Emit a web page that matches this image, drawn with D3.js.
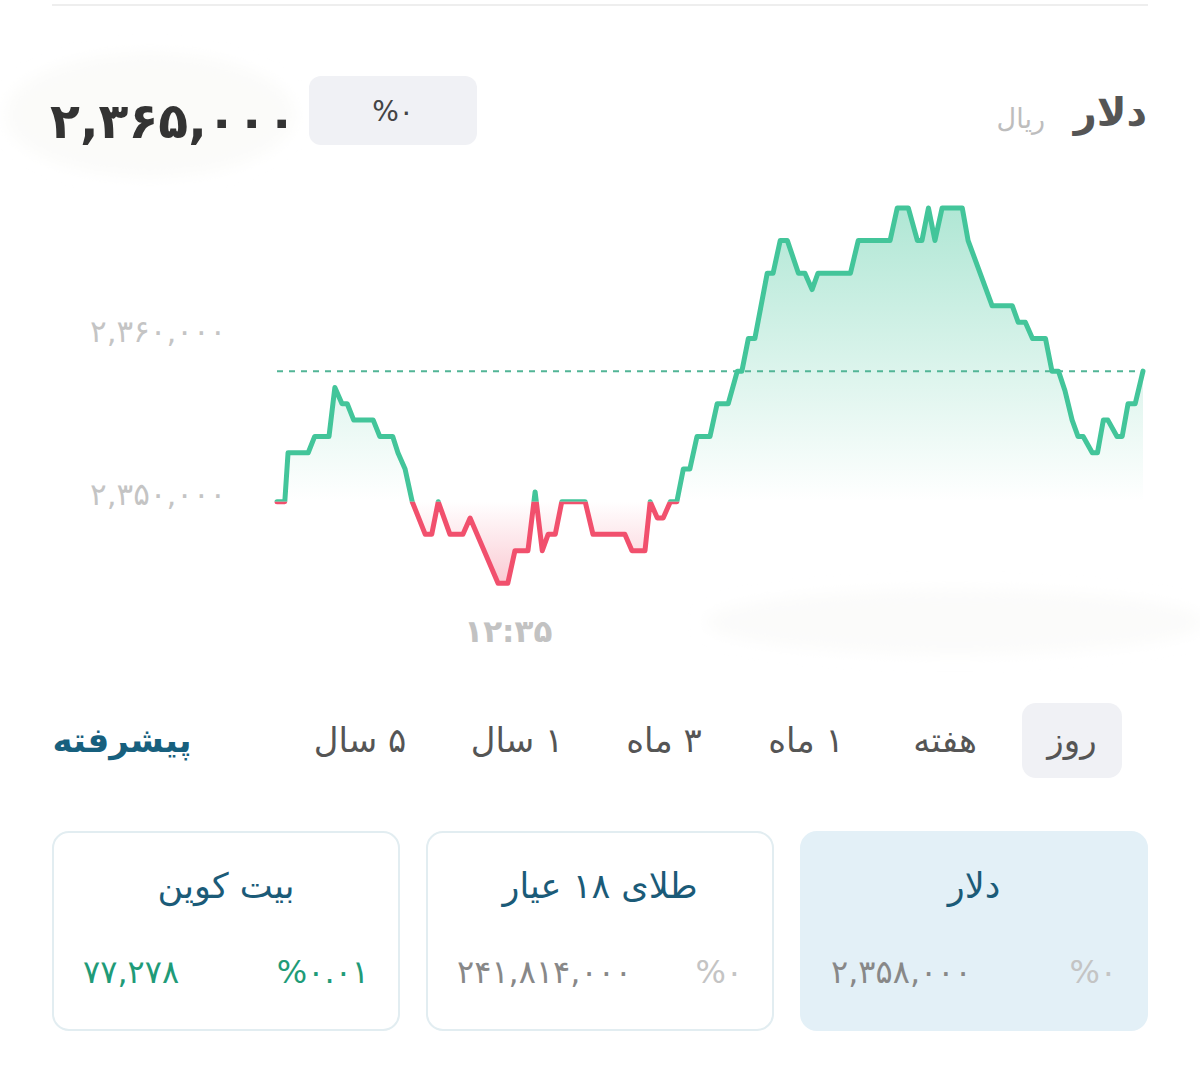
<!DOCTYPE html>
<html><head><meta charset="utf-8">
<script src="https://cdn.jsdelivr.net/npm/d3@7/dist/d3.min.js"></script>
<style>
body{margin:0;background:#fff}
svg{display:block}
text{font-family:"DejaVu Sans",sans-serif}
</style>
</head><body>
<svg id="c" width="1200" height="1079"></svg>
<script>
// ---- data ----
const times = [0,1.2,1.7,4.8,5.8,8.0,8.9,10.0,10.8,11.8,14.8,15.8,17.8,18.6,19.7,20.8,22.8,23.8,24.8,26.6,28.6,29.7,34.0,35.5,36.6,38.6,39.7,40.8,41.7,42.8,43.8,47.4,48.6,53.5,54.6,56.6,57.4,58.5,59.4,60.5,61.5,62.5,63.5,64.6,66.6,67.7,69.4,70.8,71.5,72.5,73.5,75.4,76.3,77.4,78.5,80.2,81.2,82.3,83.2,88.2,89.4,94.3,95.4,97.1,98.5,99.2,100.2,101.2,102.3,105.4,106.3,110.0,113.1,114.0,115.1,116.2,118.2,119.2,120.2,121.2,122.3,123.2,124.0,125.4,126.2,127.1,127.8,129.2,130.0,130.9,132.0,133.2];
const prices = [2350000,2350000,2353000,2353000,2354000,2354000,2357000,2356000,2356000,2355000,2355000,2354000,2354000,2353000,2352000,2350000,2348000,2348000,2350000,2348000,2348000,2349000,2345000,2345000,2347000,2347000,2350600,2347000,2348000,2348000,2350000,2350000,2348000,2348000,2347000,2347000,2350000,2349000,2349000,2350000,2350000,2352000,2352000,2354000,2354000,2356000,2356000,2358000,2358000,2360000,2360000,2364000,2364000,2366000,2366000,2364000,2364000,2363000,2364000,2364000,2366000,2366000,2368000,2368000,2366000,2366000,2368000,2366000,2368000,2368000,2366000,2362000,2362000,2361000,2361000,2360000,2360000,2358000,2358000,2356800,2355000,2354000,2354000,2353000,2353000,2355000,2355000,2354000,2354000,2356000,2356000,2358000];
const baseValue = 2350000;
const refValue = 2358000;
const yTicks = [2350000, 2360000];
const yTickLabels = ["۲,۳۵۰,۰۰۰", "۲,۳۶۰,۰۰۰"];
const xTicks = [35.5];
const xTickLabels = ["۱۲:۳۵"];
const headerPrice = "۲,۳۶۵,۰۰۰";
const headerChange = "%۰";
const assetName = "دلار";
const unitName = "ریال";
const ranges = ["روز", "هفته", "۱ ماه", "۳ ماه", "۱ سال", "۵ سال"];
const advancedLabel = "پیشرفته";
const cardTitles = ["دلار", "طلای ۱۸ عیار", "بیت کوین"];
const cardValues = ["۲,۳۵۸,۰۰۰", "۲۴۱,۸۱۴,۰۰۰", "۷۷,۲۷۸"];
const cardChanges = ["%۰", "%۰", "%۰.۰۱"];
const cardPositive = [false, false, true];

// ---- drawing ----
const svg = d3.select("#c");
const defs = svg.append("defs");
const data = times.map((t, i) => ({t, v: prices[i]}));

const x = d3.scaleLinear().domain([0, 133.2]).range([277, 1143]);
const y = d3.scaleLinear().domain([2350000, 2360000]).range([501.7, 338.5]);
const yb = y(baseValue);

const GREEN = "#43c59a", RED = "#f1506d";

// soft smudges
const blur = defs.append("filter").attr("id","blur").attr("x","-20%").attr("y","-50%").attr("width","140%").attr("height","200%");
blur.append("feGaussianBlur").attr("stdDeviation", 8);
svg.append("ellipse").attr("cx",150).attr("cy",115).attr("rx",145).attr("ry",62).attr("fill","#fbfbf9").attr("filter","url(#blur)");
svg.append("ellipse").attr("cx",955).attr("cy",622).attr("rx",250).attr("ry",32).attr("fill","#fbfbfa").attr("filter","url(#blur)");

// top divider
svg.append("line").attr("x1",52).attr("x2",1148).attr("y1",5).attr("y2",5).attr("stroke","#eeeeee").attr("stroke-width",2);

// header
svg.append("text").attr("x",50).attr("y",138).attr("font-size",49).attr("font-weight","bold").attr("fill","#333").text(headerPrice);
svg.append("rect").attr("x",309).attr("y",76).attr("width",168).attr("height",69).attr("rx",12).attr("fill","#f0f1f5");
svg.append("text").attr("x",393).attr("y",121).attr("text-anchor","middle").attr("font-size",28).attr("fill","#444").text(headerChange);
svg.append("text").attr("x",1147).attr("y",126).attr("text-anchor","end").attr("font-size",40).attr("font-weight","bold").attr("fill","#555").text(assetName);
svg.append("text").attr("x",1045).attr("y",128).attr("text-anchor","end").attr("font-size",27).attr("fill","#bdbdbd").text(unitName);

// gradients
const gG = defs.append("linearGradient").attr("id","gG").attr("gradientUnits","userSpaceOnUse")
  .attr("x1",0).attr("x2",0).attr("y1",y(d3.max(prices))).attr("y2",yb);
gG.append("stop").attr("offset",0).attr("stop-color",GREEN).attr("stop-opacity",0.42);
gG.append("stop").attr("offset",1).attr("stop-color",GREEN).attr("stop-opacity",0.0);
const gR = defs.append("linearGradient").attr("id","gR").attr("gradientUnits","userSpaceOnUse")
  .attr("x1",0).attr("x2",0).attr("y1",yb).attr("y2",y(d3.min(prices)));
gR.append("stop").attr("offset",0).attr("stop-color",RED).attr("stop-opacity",0.0);
gR.append("stop").attr("offset",1).attr("stop-color",RED).attr("stop-opacity",0.3);

defs.append("clipPath").attr("id","above").append("rect").attr("x",0).attr("y",0).attr("width",1200).attr("height",yb);
defs.append("clipPath").attr("id","below").append("rect").attr("x",0).attr("y",yb).attr("width",1200).attr("height",1079-yb);

const area = d3.area().x(d => x(d.t)).y0(yb).y1(d => y(d.v));
const line = d3.line().x(d => x(d.t)).y(d => y(d.v));

svg.append("path").datum(data).attr("d",area).attr("fill","url(#gG)").attr("clip-path","url(#above)");
svg.append("path").datum(data).attr("d",area).attr("fill","url(#gR)").attr("clip-path","url(#below)");

// reference dashed line
svg.append("line").attr("x1",x(0)).attr("x2",x(133.2)).attr("y1",y(refValue)).attr("y2",y(refValue))
  .attr("stroke","#52b596").attr("stroke-width",2).attr("stroke-dasharray","6,6");

svg.append("path").datum(data).attr("d",line).attr("fill","none").attr("stroke",GREEN).attr("stroke-width",5)
  .attr("stroke-linejoin","round").attr("stroke-linecap","round").attr("clip-path","url(#above)");
svg.append("path").datum(data).attr("d",line).attr("fill","none").attr("stroke",RED).attr("stroke-width",5)
  .attr("stroke-linejoin","round").attr("stroke-linecap","round").attr("clip-path","url(#below)");

// y axis labels
const yAxis = d3.axisLeft(y).tickValues(yTicks).tickFormat((d,i) => yTickLabels[i]).tickSize(0).tickPadding(0);
const gy = svg.append("g").attr("transform","translate(90,0)").call(yAxis);
gy.select(".domain").remove();
gy.selectAll("text").attr("text-anchor","start").attr("x",0).attr("dy",null).attr("y",0)
  .attr("transform", "translate(0,3)")
  .attr("font-size",31).attr("fill","#c4c4c4").attr("font-family","DejaVu Sans");

// x axis label
const xAxis = d3.axisBottom(x).tickValues(xTicks).tickFormat((d,i) => xTickLabels[i]).tickSize(0).tickPadding(0);
const gx = svg.append("g").attr("transform","translate(0,642)").call(xAxis);
gx.select(".domain").remove();
gx.selectAll("text").attr("dy",null).attr("y",0).attr("font-size",31).attr("font-weight","bold")
  .attr("fill","#c2c2c2").attr("font-family","DejaVu Sans");

// range tabs
const tabCenters = [1072, 945, 806, 664, 517, 360];
svg.append("rect").attr("x",1022).attr("y",703).attr("width",100).attr("height",75).attr("rx",14).attr("fill","#f0f1f5");
svg.selectAll("text.tab").data(ranges).enter().append("text").attr("class","tab")
  .attr("x",(d,i)=>tabCenters[i]).attr("y",752).attr("text-anchor","middle").attr("direction","rtl")
  .attr("font-size",34).attr("fill","#555").text(d=>d);
svg.append("text").attr("x",122).attr("y",752).attr("text-anchor","middle").attr("direction","rtl")
  .attr("font-size",34).attr("font-weight","bold").attr("fill","#17607e").text(advancedLabel);

// cards
const cardLefts = [801, 427, 53];
cardTitles.forEach((title, i) => {
  const L = cardLefts[i];
  const sel = i === 0;
  svg.append("rect").attr("x",L).attr("y",832).attr("width",346).attr("height",198).attr("rx",16)
    .attr("fill", sel ? "#e3f0f7" : "#fff").attr("stroke", sel ? "#e3f0f7" : "#e2edf1").attr("stroke-width",2);
  svg.append("text").attr("x",L+173).attr("y",898).attr("text-anchor","middle").attr("direction","rtl")
    .attr("font-size",35).attr("fill","#1b5b78").text(title);
  const col = cardPositive[i] ? "#1f9b78" : "#888";
  svg.append("text").attr("x",L+30).attr("y",983).attr("font-size",32)
    .attr("fill",col).text(cardValues[i]);
  svg.append("text").attr("x",L+316).attr("y",983).attr("text-anchor","end").attr("font-size",32)
    .attr("fill", cardPositive[i] ? "#1f9b78" : "#c4c4c4").text(cardChanges[i]);
});
</script>
</body></html>
